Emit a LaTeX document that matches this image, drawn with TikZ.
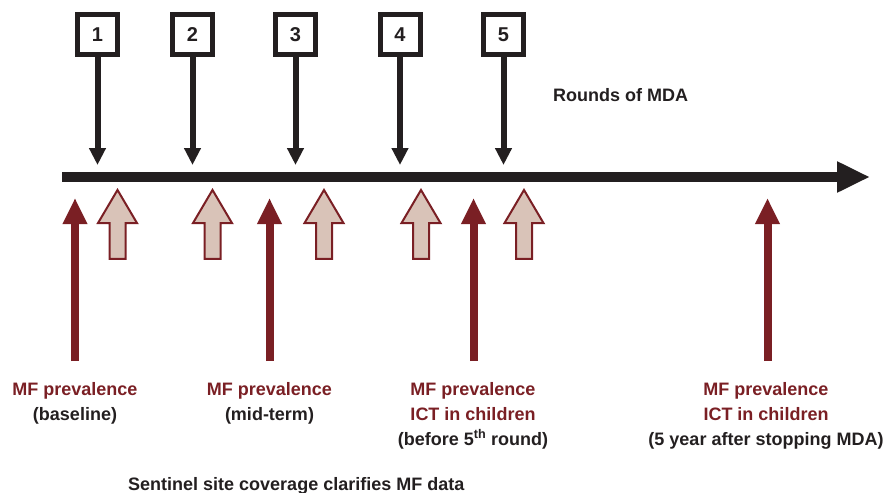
\documentclass[tikz,border=0pt]{standalone}
\usepackage{fontspec}
\setmainfont{Liberation Sans}
\usetikzlibrary{arrows.meta, shapes.arrows, positioning}
\usepackage{xcolor}
\definecolor{mfred}{HTML}{7A1F24}
\definecolor{tanfill}{HTML}{D9C3B8}
\definecolor{ink}{HTML}{231F20}

\begin{document}
\begin{tikzpicture}[x=1pt, y=-1pt,
    mdabox/.style={draw=ink, line width=5pt, fill=white, minimum size=40pt, inner sep=0pt,
        text=ink, font=\fontsize{20}{24}\selectfont\bfseries},
    drop/.style={draw=ink, line width=6pt, -{Triangle[width=16pt, length=17pt]}},
    timeline/.style={draw=ink, line width=10pt, -{Triangle[width=29pt, length=33pt]}},
    coverage/.style={single arrow, draw=mfred, fill=tanfill, line width=2pt, rotate=90, anchor=tip,
        minimum height=69pt, inner xsep=0pt, inner ysep=7pt,
        single arrow head extend=11.5pt, single arrow tip angle=61},
    survey/.style={draw=mfred, line width=8pt, -{Triangle[width=23pt, length=26pt]}},
    findings/.style={align=center, inner sep=0pt, anchor=north, text=mfred,
        font=\fontsize{18}{25}\selectfont\bfseries},
    caption/.style={inner sep=0pt, anchor=base west, text=ink,
        font=\fontsize{18}{25}\selectfont\bfseries}]
    \useasboundingbox (0,0) rectangle (887,493);

    % time axis
    \coordinate (start) at (62,177);
    \coordinate (finish) at (870,177);
    \draw[timeline] (start) -- (finish);

    % rounds of MDA
    \node[mdabox] (r1) at (97.5,34.5) {1};
    \node[mdabox] (r2) at (192.5,34.5) {2};
    \node[mdabox] (r3) at (295.5,34.5) {3};
    \node[mdabox] (r4) at (400,34.5) {4};
    \node[mdabox] (r5) at (503.5,34.5) {5};
    \coordinate (h1) at (97.5,165);
    \coordinate (h2) at (192.5,165);
    \coordinate (h3) at (295.5,165);
    \coordinate (h4) at (400,165);
    \coordinate (h5) at (503.5,165);
    \draw[drop] (r1) -- (h1);
    \draw[drop] (r2) -- (h2);
    \draw[drop] (r3) -- (h3);
    \draw[drop] (r4) -- (h4);
    \draw[drop] (r5) -- (h5);
    \node[caption] (rounds) at (553,101) {Rounds of MDA};

    % coverage surveys
    \node[coverage] (c1) at (117.5,188) {};
    \node[coverage] (c2) at (212.5,188) {};
    \node[coverage] (c3) at (324,188) {};
    \node[coverage] (c4) at (421,188) {};
    \node[coverage] (c5) at (524,188) {};

    % MF surveys
    \coordinate (m1) at (75,361);
    \coordinate (m2) at (269.5,361);
    \coordinate (m3) at (473.5,361);
    \coordinate (m4) at (767.5,361);
    \coordinate (p1) at (75,198);
    \coordinate (p2) at (269.5,198);
    \coordinate (p3) at (473.5,198);
    \coordinate (p4) at (767.5,198);
    \draw[survey] (m1) -- (p1);
    \draw[survey] (m2) -- (p2);
    \draw[survey] (m3) -- (p3);
    \draw[survey] (m4) -- (p4);

    \node[findings] (f1) at (75,382) {MF prevalence\\{\color{ink}(baseline)}};
    \node[findings] (f2) at (269.5,382) {MF prevalence\\{\color{ink}(mid-term)}};
    \node[findings] (f3) at (473,382) {MF prevalence\\ICT in children\\{\color{ink}(before 5\textsuperscript{th} round)}};
    \node[findings] (f4) at (766,382) {MF prevalence\\ICT in children\\{\color{ink}(5 year after stopping MDA)}};

    \node[caption] (sentinel) at (128,490) {Sentinel site coverage clarifies MF data};
\end{tikzpicture}
\end{document}
